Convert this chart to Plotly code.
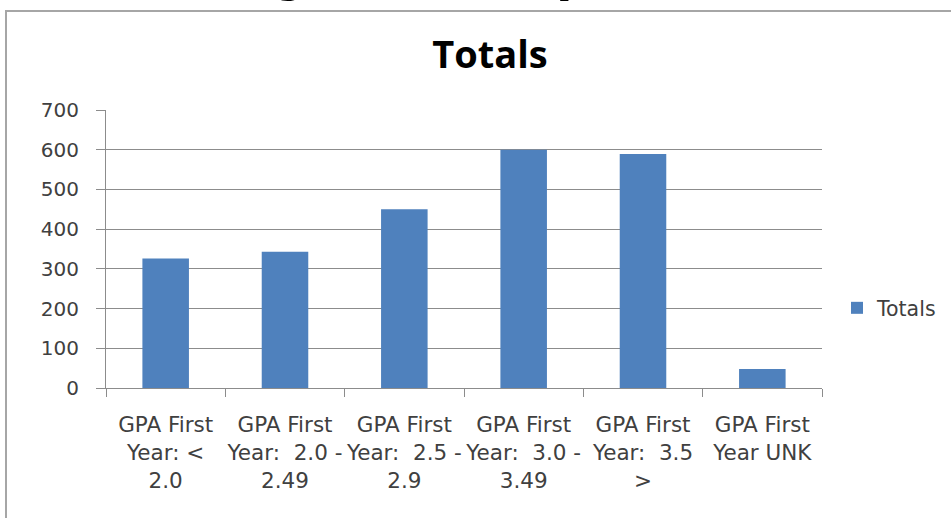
import plotly.graph_objects as go

categories = [
    "GPA First<br>Year: <<br>2.0",
    "GPA First<br>Year:  2.0 -<br>2.49",
    "GPA First<br>Year:  2.5 -<br>2.9",
    "GPA First<br>Year:  3.0 -<br>3.49",
    "GPA First<br>Year:  3.5<br>>",
    "GPA First<br>Year UNK",
]
totals = [326, 343, 450, 600, 589, 48]
y_ticks = [0, 100, 200, 300, 400, 500, 600, 700]

W, H = 951, 518
L, R, T, B = 106, 822, 110, 388  # plot area pixels

def px(x):
    return (x - L) / (R - L)

def py(y):
    return (B - y) / (B - T)

FONT = "DejaVu Sans"
GREY_TXT = "#404040"

fig = go.Figure()
fig.add_trace(go.Bar(
    x=categories, y=totals, name="Totals",
    marker=dict(color="#4F81BD", line=dict(width=0)),
    width=0.39,
))

fig.update_layout(
    width=W, height=H,
    margin=dict(l=L, r=W - R, t=T, b=H - B, pad=0, autoexpand=False),
    paper_bgcolor="white", plot_bgcolor="white",
    font=dict(family=FONT, size=19, color=GREY_TXT),
    title=dict(text="<b>Totals</b>", xref="paper", x=px(490), xanchor="center",
               yref="container", y=1 - 55 / H, yanchor="middle",
               font=dict(family="Open Sans", size=38, color="black"),
               automargin=False),
    showlegend=True,
    legend=dict(x=px(837), y=py(308), xanchor="left", yanchor="middle",
                font=dict(family=FONT, size=20.5, color=GREY_TXT),
                bgcolor="rgba(0,0,0,0)", itemwidth=30),
    bargap=0.61,
)
fig.update_xaxes(
    type="category", showgrid=False, showline=True, linecolor="#8c8c8c", linewidth=1,
    ticks="outside", tickson="boundaries", ticklen=8, tickcolor="#8c8c8c",
    tickfont=dict(family=FONT, size=21.5, color=GREY_TXT), tickangle=0,
    ticklabelstandoff=17, automargin=False,
    fixedrange=True,
)
fig.update_yaxes(
    range=[0, 700], tickvals=y_ticks, showgrid=True, gridcolor="#8c8c8c", gridwidth=1,
    showline=True, linecolor="#8c8c8c", linewidth=1,
    ticks="outside", ticklen=9, tickcolor="#8c8c8c",
    tickfont=dict(family=FONT, size=20, color=GREY_TXT), ticklabelstandoff=13,
    zeroline=False, fixedrange=True, automargin=False,
)

# chart frame (extends beyond the visible page)
fig.add_shape(type="rect", xref="paper", yref="paper",
              x0=px(6), x1=px(1000), y0=py(600), y1=py(11),
              line=dict(color="#a6a6a6", width=2), fillcolor="rgba(0,0,0,0)", layer="below")

# cut-off slide heading fragments at the very top
for ch, xc in [("g", 288), ("p", 574)]:
    fig.add_annotation(text="<b>%s</b>" % ch, xref="paper", yref="paper",
                       x=px(xc), y=py(-32), xanchor="center", yanchor="middle",
                       showarrow=False, font=dict(family="Liberation Sans", size=60, color="black"))

fig.write_html("out.html", config={"displayModeBar": False},
               post_script="document.body.style.margin='0';")
